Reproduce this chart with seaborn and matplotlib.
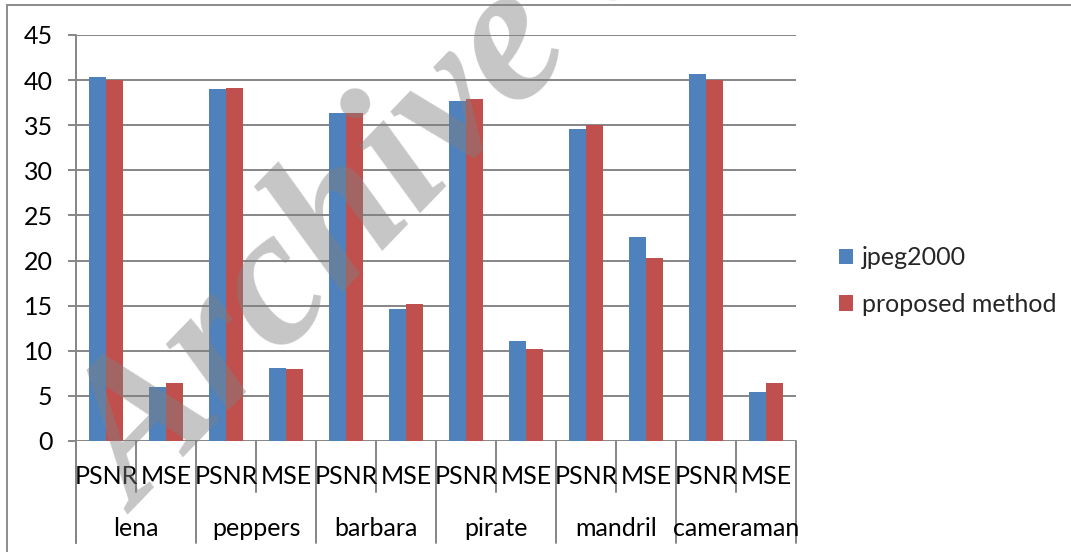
import matplotlib
matplotlib.use("Agg")
import matplotlib.pyplot as plt
import matplotlib.transforms as mtransforms
from matplotlib.lines import Line2D
import pandas as pd
import seaborn as sns

# ---- data -------------------------------------------------------------
images = ["lena", "peppers", "barbara", "pirate", "mandril", "cameraman"]
metrics = ["PSNR", "MSE"]
methods = ["jpeg2000", "proposed method"]
# values per (image, metric) in the order lena PSNR, lena MSE, peppers PSNR, ...
jpeg2000 = [40.3, 5.95, 39.0, 8.1, 36.4, 14.6, 37.65, 11.05, 34.55, 22.6, 40.7, 5.45]
proposed = [40.05, 6.4, 39.1, 7.95, 36.3, 15.15, 37.95, 10.25, 35.0, 20.3, 40.0, 6.45]
yticks = [0, 5, 10, 15, 20, 25, 30, 35, 40, 45]

# ---- style ------------------------------------------------------------
sns.set_style("white")
plt.rcParams["font.family"] = ["Lato", "DejaVu Sans"]

BLUE = "#4F81BD"
RED = "#C0504D"
GRID = "#868686"
FS = 18

W, H, DPI = 1071, 552, 100
fig = plt.figure(figsize=(W / DPI, H / DPI), dpi=DPI)

# plot area in pixels
x0, x1, y_top, y_zero = 76, 796, 35, 441
ax = fig.add_axes([x0 / W, 1 - y_zero / H, (x1 - x0) / W, (y_zero - y_top) / H])

keys = [f"{im}|{m}" for im in images for m in metrics]
rows = []
for k, a, b in zip(keys, jpeg2000, proposed):
    rows.append({"key": k, "method": methods[0], "value": a})
    rows.append({"key": k, "method": methods[1], "value": b})
df = pd.DataFrame(rows)

sns.barplot(data=df, x="key", y="value", hue="method", order=keys,
            hue_order=methods, palette=[BLUE, RED], width=0.567,
            saturation=1, edgecolor="none", ax=ax, legend=True)

ax.set_xlim(-0.5, len(keys) - 0.5)
ax.set_ylim(0, 45)
ax.set_yticks(yticks)
ax.set_yticklabels([str(t) for t in yticks], fontsize=FS, color="black")
ax.set_xticks([])
ax.set_xlabel("")
ax.set_ylabel("")
for s in ax.spines.values():
    s.set_visible(False)

ax.yaxis.grid(True, color=GRID, linewidth=1.4)
ax.set_axisbelow(True)
ax.tick_params(axis="y", length=5.8, width=1.4, color=GRID, pad=11,
               left=True, direction="out")

ax_h = y_zero - y_top
trans = mtransforms.blended_transform_factory(ax.transData, ax.transAxes)

# vertical axis line running down through the category rows
ax.add_line(Line2D([0, 0], [1, -(543 - y_zero) / ax_h], transform=ax.transAxes,
                   color=GRID, linewidth=1.4, clip_on=False))

# category separators of the two-level axis
short = -(492 - y_zero) / ax_h
long_ = -(543 - y_zero) / ax_h
for k in range(len(keys) + 1):
    yb = long_ if k % 2 == 0 else short
    ax.add_line(Line2D([k - 0.5, k - 0.5], [0, yb], transform=trans,
                       color=GRID, linewidth=1.4, clip_on=False))

# metric labels and image labels
y_metric = -(476 - y_zero) / ax_h
y_image = -(528 - y_zero) / ax_h
for i, k in enumerate(keys):
    ax.text(i, y_metric, k.split("|")[1], transform=trans, ha="center",
            va="center", fontsize=FS, color="black")
for g, im in enumerate(images):
    ax.text(2 * g + 0.5, y_image, im, transform=trans, ha="center",
            va="center", fontsize=FS, color="black")

# legend on the right
leg = ax.legend(loc="center left", bbox_to_anchor=(839 / W, 1 - 281 / H),
                bbox_transform=fig.transFigure, frameon=False, fontsize=FS,
                handlelength=0.56, handleheight=0.56, handletextpad=0.35,
                labelspacing=0.95, borderpad=0, borderaxespad=0, title=None)

# outer chart frame
fig.add_artist(Line2D([7 / W, 7 / W], [0, 1 - 5 / H], transform=fig.transFigure,
                      color="#8c8c8c", linewidth=1.4))
fig.add_artist(Line2D([7 / W, 1], [1 - 5 / H, 1 - 5 / H], transform=fig.transFigure,
                      color="#8c8c8c", linewidth=1.4))

# watermark
fig.text(138 / W, 1 - 515 / H, "Archive of SID", rotation=46,
         rotation_mode="anchor", ha="left", va="baseline", fontsize=142,
         family=["Liberation Serif", "DejaVu Serif"], weight="bold",
         style="italic", color="#808080", alpha=0.45, zorder=10)

fig.savefig("out.png", dpi=DPI)
